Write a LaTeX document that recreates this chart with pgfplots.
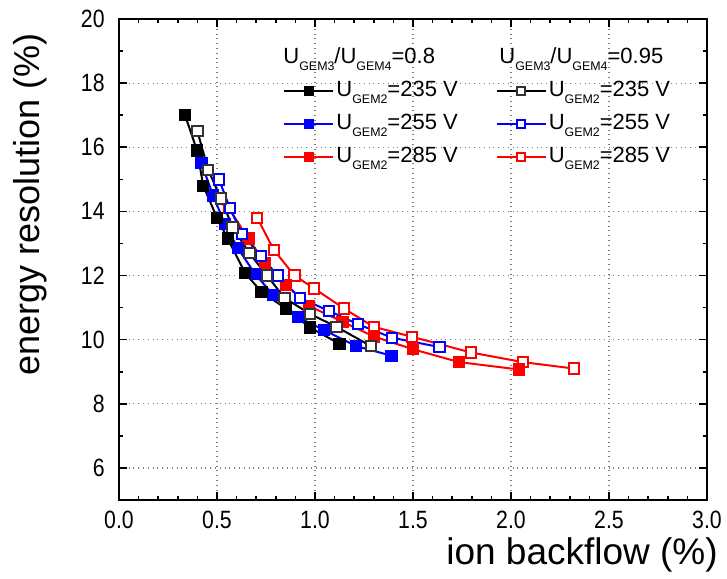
\documentclass[border=0pt]{standalone}
\usepackage{fontspec}
\setmainfont{Liberation Sans}
\newfontfamily\narrowfont[FakeStretch=0.85]{Liberation Sans}
\usepackage{pgfplots}
\pgfplotsset{compat=1.18}
\newcommand\sub[1]{\raisebox{-3.5pt}{\fontsize{6.2}{7}\selectfont #1}}
\begin{document}
\begin{tikzpicture}
\begin{axis}[
  scale only axis, width=294pt, height=240.5pt,
  xmin=0, xmax=3, ymin=5, ymax=20,
  xtick={0,0.5,...,3}, ytick={6,8,...,20},
  minor x tick num=4, minor y tick num=1,
  tick align=inside, tick pos=both,
  major tick length=4pt, minor tick length=2pt,
  axis line style={line width=1pt},
  tick style={black, line width=0.8pt},
  grid=major, major grid style={gray, dotted, line width=0.6pt},
  /pgf/number format/assume math mode=true,
  tick label style={font=\narrowfont\fontsize{12.5}{14}\selectfont},
  x tick label style={/pgf/number format/.cd, fixed, fixed zerofill, precision=1, /tikz/.cd, inner sep=0pt, yshift=-5.5pt},
  y tick label style={inner sep=0pt, xshift=-7pt},
  xlabel={ion backflow (\%)},
  xlabel style={at={(rel axis cs:1.019,-0.114)}, anchor=east, font=\fontsize{18.5}{22}\selectfont, inner sep=0pt},
  ylabel={energy resolution (\%)},
  ylabel style={at={(rel axis cs:-0.151,0.615)}, anchor=center, font=\fontsize{18}{22}\selectfont, inner sep=0pt},
  legend columns=2,
  reverse legend,
  legend cell align=left,
  legend style={at={(rel axis cs:0.279,0.878)}, anchor=north west, draw=none, fill=none, inner sep=0pt,
    font=\fontsize{11}{13}\selectfont,
    nodes={inner sep=1pt, text height=8pt, text depth=3pt},
    row sep=3.6pt,
    /tikz/every even column/.append style={column sep=18pt}},
  legend image code/.code={\draw[mark repeat=2, mark phase=2, mark size=2pt] plot coordinates {(0pt,0pt)(12.25pt,0pt)(24.5pt,0pt)};},
]
\addplot[red, line width=1pt, mark=square*, mark size=2.6pt, mark options={solid, fill=white}] coordinates {(0.705,13.8)(0.79,12.8)(0.895,12.0)(0.995,11.6)(1.148,10.97)(1.30,10.4)(1.495,10.09)(1.796,9.6)(2.06,9.3)(2.32,9.1)};
\addlegendentry{U\sub{GEM2}=285 V}
\addplot[red, line width=1pt, mark=square*, mark size=2.6pt, mark options={solid, fill=red}] coordinates {(0.56,14.1)(0.66,13.15)(0.745,12.4)(0.852,11.7)(0.97,11.05)(1.14,10.56)(1.30,10.1)(1.50,9.7)(1.735,9.3)(2.04,9.07)};
\addlegendentry{U\sub{GEM2}=285 V}
\addplot[blue, line width=1pt, mark=square*, mark size=2.6pt, mark options={solid, fill=white}] coordinates {(0.51,15.0)(0.566,14.1)(0.628,13.3)(0.724,12.6)(0.81,12.0)(0.923,11.3)(1.07,10.9)(1.22,10.48)(1.393,10.06)(1.635,9.77)};
\addlegendentry{U\sub{GEM2}=255 V}
\addplot[blue, line width=1pt, mark=square*, mark size=2.6pt, mark options={solid, fill=blue}] coordinates {(0.42,15.5)(0.48,14.5)(0.54,13.6)(0.607,12.85)(0.694,12.05)(0.786,11.4)(0.913,10.7)(1.046,10.3)(1.21,9.8)(1.39,9.5)};
\addlegendentry{U\sub{GEM2}=255 V}
\addplot[black, line width=1pt, mark=square*, mark size=2.6pt, mark options={solid, fill=white, draw=black!80}] coordinates {(0.40,16.5)(0.455,15.3)(0.52,14.4)(0.58,13.5)(0.665,12.7)(0.755,12.0)(0.845,11.3)(0.975,10.8)(1.11,10.4)(1.285,9.8)};
\addlegendentry{U\sub{GEM2}=235 V}
\addplot[black, line width=1pt, mark=square*, mark size=2.6pt, mark options={solid, fill=black}] coordinates {(0.337,17.0)(0.398,15.9)(0.43,14.8)(0.50,13.8)(0.555,13.15)(0.643,12.08)(0.728,11.48)(0.852,10.97)(0.974,10.38)(1.125,9.87)};
\addlegendentry{U\sub{GEM2}=235 V}
\node[anchor=base west, inner sep=0pt, font=\fontsize{11}{13}\selectfont] at (axis cs:0.837,18.6) {U\sub{GEM3}/U\sub{GEM4}=0.8};
\node[anchor=base west, inner sep=0pt, font=\fontsize{11}{13}\selectfont] at (axis cs:1.939,18.6) {U\sub{GEM3}/U\sub{GEM4}=0.95};
\end{axis}
\pgfresetboundingbox
\path[use as bounding box] ([shift={(-59.5pt,-39pt)}]current axis.south west) rectangle ([shift={(10pt,9.5pt)}]current axis.north east);
\end{tikzpicture}
\end{document}
